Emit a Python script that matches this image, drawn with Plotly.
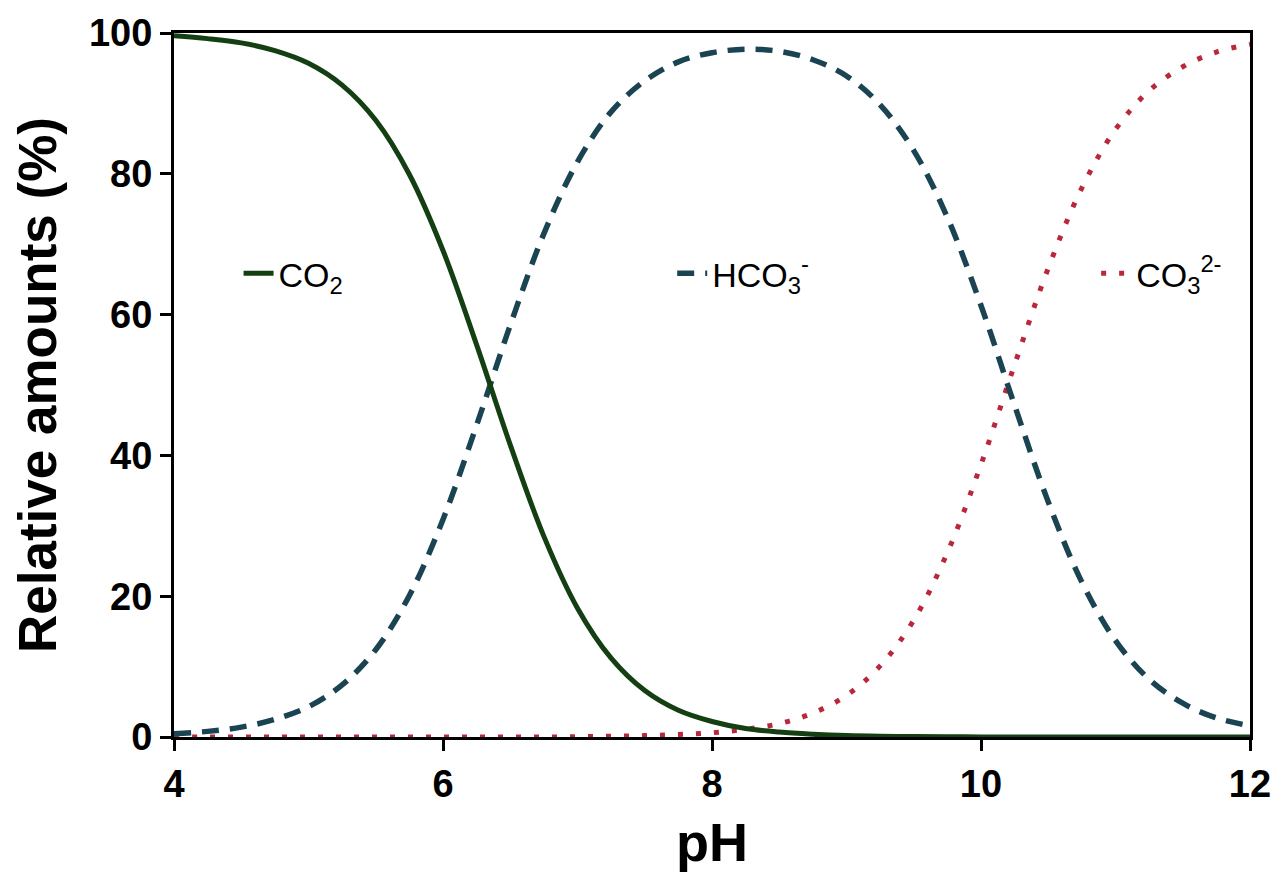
import plotly.graph_objects as go

ph = [4.0, 4.25, 4.5, 4.75, 5.0, 5.25, 5.5, 5.75, 6.0, 6.25, 6.5, 6.75, 7.0, 7.25,
      7.5, 7.75, 8.0, 8.25, 8.5, 8.75, 9.0, 9.25, 9.5, 9.75, 10.0, 10.25, 10.5,
      10.75, 11.0, 11.25, 11.5, 11.75, 12.0]

co2 = [99.6, 99.2, 98.6, 97.5, 95.7, 92.6, 87.6, 79.9, 69.1, 55.7, 41.5, 28.5, 18.3, 11.2,
       6.6, 3.8, 2.2, 1.2, 0.7, 0.4, 0.2, 0.1, 0.06, 0.03, 0.01, 0.0, 0.0,
       0.0, 0.0, 0.0, 0.0, 0.0, 0.0]

hco3 = [0.45, 0.8, 1.4, 2.5, 4.3, 7.4, 12.4, 20.1, 30.9, 44.3, 58.5, 71.5, 81.7, 88.8,
        93.2, 95.9, 97.2, 97.7, 97.4, 96.2, 93.9, 89.8, 83.3, 73.8, 61.3, 47.1, 33.4,
        22.0, 13.7, 8.2, 4.8, 2.7, 1.6]

co3 = [0.0, 0.0, 0.0, 0.0, 0.0, 0.0, 0.0, 0.0, 0.0, 0.0, 0.0, 0.0, 0.05, 0.1,
       0.2, 0.35, 0.6, 1.1, 1.9, 3.4, 5.9, 10.1, 16.6, 26.2, 38.7, 52.9, 66.6,
       78.0, 86.3, 91.8, 95.2, 97.3, 98.4]

x_ticks = [4, 6, 8, 10, 12]
y_ticks = [0, 20, 40, 60, 80, 100]

FONT = "Liberation Sans, Arial"

fig = go.Figure()
fig.add_trace(go.Scatter(x=ph, y=co3, mode="lines", name="CO<sub>3</sub><sup>2-</sup>",
                         line=dict(color="#b8283a", width=5, dash="5px,13px", shape="spline"),
                         legend="legend3", showlegend=True))
fig.add_trace(go.Scatter(x=ph, y=hco3, mode="lines", name="HCO<sub>3</sub><sup>-</sup>",
                         line=dict(color="#1b4453", width=5.5, dash="17px,11px", shape="spline"),
                         legend="legend2", showlegend=True))
fig.add_trace(go.Scatter(x=ph, y=co2, mode="lines", name="CO<sub>2</sub>",
                         line=dict(color="#133f13", width=5, shape="spline"),
                         legend="legend", showlegend=True))

axis_common = dict(
    showline=True, linewidth=3, linecolor="black", mirror=True,
    ticks="outside", ticklen=11, tickwidth=3, tickcolor="black",
    showgrid=False, zeroline=False, automargin=False, ticklabeloverflow="allow",
    tickfont=dict(family=FONT, size=38, color="black", weight="bold"),
)

fig.update_xaxes(range=[4, 12], tickvals=x_ticks, **axis_common,
                 title=dict(text="pH", font=dict(family=FONT, size=54,
                                                 color="black", weight="bold"), standoff=20))
fig.update_yaxes(range=[0, 100], tickvals=y_ticks, **axis_common,
                 title=dict(text="Relative amounts (%)",
                            font=dict(family=FONT, size=53,
                                      color="black", weight="bold"), standoff=20))

leg_common = dict(orientation="h", y=0.658, xanchor="left", yanchor="middle",
                  font=dict(family=FONT, size=34, color="black"),
                  bgcolor="rgba(0,0,0,0)", visible=True)

# page body adds an 8px offset, so the figure is sized and margined to compensate
fig.update_layout(
    width=1272, height=873,
    margin=dict(l=166, r=30, t=25, b=144),
    paper_bgcolor="white", plot_bgcolor="white",
    showlegend=True,
    legend=dict(x=0.06, **leg_common),
    legend2=dict(x=0.463, **leg_common),
    legend3=dict(x=0.857, **leg_common),
)

fig.write_html("out.html")
